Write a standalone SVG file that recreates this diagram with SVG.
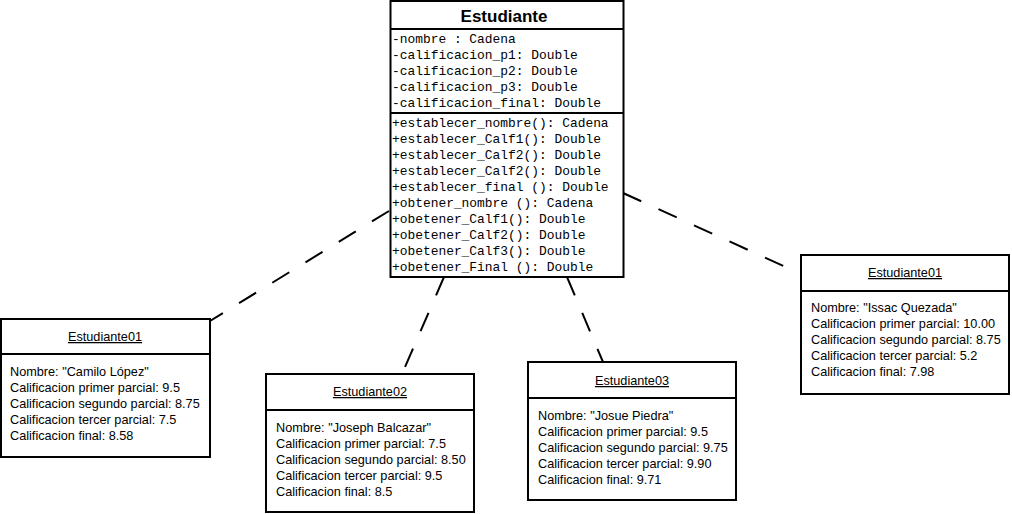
<svg xmlns="http://www.w3.org/2000/svg" width="1012" height="514" viewBox="0 0 1012 514">
<style>
.box{fill:#fff;stroke:#000;stroke-width:2}
.ln{stroke:#000;stroke-width:2}
.mono{font-family:"Liberation Mono","Courier New",monospace;font-size:12.9px;fill:#000}
.ttl{font-family:"Liberation Sans",Arial,sans-serif;font-size:17px;font-weight:bold;fill:#000}
.ot{font-family:"Liberation Sans",Arial,sans-serif;font-size:12.7px;fill:#000}
.oh{font-family:"Liberation Sans",Arial,sans-serif;font-size:12.7px;fill:#000;text-decoration:underline;text-anchor:middle}
.dash{stroke:#000;stroke-width:2;stroke-dasharray:20 19;fill:none}
</style>
<rect width="1012" height="514" fill="#fff"/>
<g id="connectors">
<line class="dash" x1="389" y1="211" x2="210" y2="321"/>
<line class="dash" x1="444" y1="277" x2="402" y2="374"/>
<line class="dash" x1="567" y1="277" x2="603" y2="362"/>
<line class="dash" x1="623" y1="193" x2="801" y2="274"/>
</g>
<g id="Estudiante">
<rect class="box" x="390.5" y="1" width="233" height="276"/>
<line class="ln" x1="390.5" y1="29" x2="623.5" y2="29"/>
<line class="ln" x1="390.5" y1="113" x2="623.5" y2="113"/>
<text class="ttl" x="504" y="22" text-anchor="middle">Estudiante</text>
<text class="mono" x="392" y="43">-nombre : Cadena</text>
<text class="mono" x="392" y="59">-calificacion_p1: Double</text>
<text class="mono" x="392" y="75">-calificacion_p2: Double</text>
<text class="mono" x="392" y="91">-calificacion_p3: Double</text>
<text class="mono" x="392" y="107">-calificacion_final: Double</text>
<text class="mono" x="392" y="127">+establecer_nombre(): Cadena</text>
<text class="mono" x="392" y="143">+establecer_Calf1(): Double</text>
<text class="mono" x="392" y="159">+establecer_Calf2(): Double</text>
<text class="mono" x="392" y="175">+establecer_Calf2(): Double</text>
<text class="mono" x="392" y="191">+establecer_final (): Double</text>
<text class="mono" x="392" y="207">+obtener_nombre (): Cadena</text>
<text class="mono" x="392" y="223">+obetener_Calf1(): Double</text>
<text class="mono" x="392" y="239">+obetener_Calf2(): Double</text>
<text class="mono" x="392" y="255">+obetener_Calf3(): Double</text>
<text class="mono" x="392" y="271">+obetener_Final (): Double</text>
</g>
<g id="obj1">
<rect class="box" x="1" y="319" width="209" height="138"/>
<line class="ln" x1="1" y1="354" x2="210" y2="354"/>
<text class="oh" x="105" y="341">Estudiante01</text>
<text class="ot" x="10" y="376">Nombre: "Camilo López"</text>
<text class="ot" x="10" y="392">Calificacion primer parcial: 9.5</text>
<text class="ot" x="10" y="408">Calificacion segundo parcial: 8.75</text>
<text class="ot" x="10" y="424">Calificacion tercer parcial: 7.5</text>
<text class="ot" x="10" y="440">Calificacion final: 8.58</text>
</g>
<g id="obj2">
<rect class="box" x="266" y="374" width="208" height="138"/>
<line class="ln" x1="266" y1="410" x2="474" y2="410"/>
<text class="oh" x="370" y="396">Estudiante02</text>
<text class="ot" x="276" y="432">Nombre: "Joseph Balcazar"</text>
<text class="ot" x="276" y="448">Calificacion primer parcial: 7.5</text>
<text class="ot" x="276" y="464">Calificacion segundo parcial: 8.50</text>
<text class="ot" x="276" y="480">Calificacion tercer parcial: 9.5</text>
<text class="ot" x="276" y="496">Calificacion final: 8.5</text>
</g>
<g id="obj3">
<rect class="box" x="528" y="362" width="208" height="138"/>
<line class="ln" x1="528" y1="398" x2="736" y2="398"/>
<text class="oh" x="632" y="385">Estudiante03</text>
<text class="ot" x="538" y="420">Nombre: "Josue Piedra"</text>
<text class="ot" x="538" y="436">Calificacion primer parcial: 9.5</text>
<text class="ot" x="538" y="452">Calificacion segundo parcial: 9.75</text>
<text class="ot" x="538" y="468">Calificacion tercer parcial: 9.90</text>
<text class="ot" x="538" y="484">Calificacion final: 9.71</text>
</g>
<g id="obj4">
<rect class="box" x="801" y="255" width="208" height="139"/>
<line class="ln" x1="801" y1="291" x2="1009" y2="291"/>
<text class="oh" x="905" y="277">Estudiante01</text>
<text class="ot" x="811" y="312">Nombre: "Issac Quezada"</text>
<text class="ot" x="811" y="328">Calificacion primer parcial: 10.00</text>
<text class="ot" x="811" y="344">Calificacion segundo parcial: 8.75</text>
<text class="ot" x="811" y="360">Calificacion tercer parcial: 5.2</text>
<text class="ot" x="811" y="376">Calificacion final: 7.98</text>
</g>
</svg>
